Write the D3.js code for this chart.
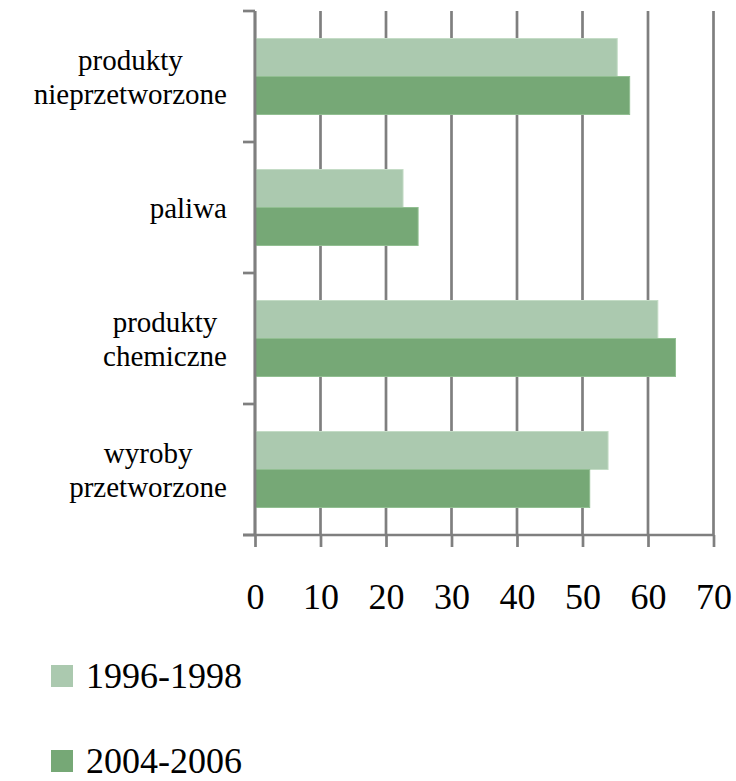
<!DOCTYPE html>
<html>
<head>
<meta charset="utf-8">
<script src="https://cdn.jsdelivr.net/npm/d3@7"></script>
<style>
    body { margin: 0; background: #fff; }
    svg { display: block; }
    text { font-family: "Liberation Serif", "DejaVu Serif", "Times New Roman", serif; fill: #000; }
</style>
</head>
<body>
<div id="chart"></div>
<script>
// Data
const categories = ["produkty nieprzetworzone", "paliwa", "produkty chemiczne", "wyroby przetworzone"];
const categoryLines = [["produkty", "nieprzetworzone"], ["paliwa"], ["produkty", "chemiczne"], ["wyroby", "przetworzone"]];
const series = ["1996-1998", "2004-2006"];
const values1996 = [55.3, 22.6, 61.5, 53.9];
const values2004 = [57.2, 24.9, 64.2, 51.1];
const xTicks = [0, 10, 20, 30, 40, 50, 60, 70];

const colors = { "1996-1998": "#abc9af", "2004-2006": "#76a876" };
const strokes = { "1996-1998": "#c4dcc6", "2004-2006": "#92bf92" };
const gridColor = "#7f7f7f";
const fontStack = "'Liberation Serif', 'DejaVu Serif', 'Times New Roman', serif";

const width = 736, height = 781;
const plotLeft = 255, plotRight = 713.5, plotTop = 11, plotBottom = 535;

const svg = d3.select("#chart").append("svg")
    .attr("width", width)
    .attr("height", height);

const x = d3.scaleLinear().domain([0, 70]).range([plotLeft, plotRight]);
const y = d3.scaleBand().domain(categories).range([plotTop, plotBottom])
    .paddingInner(0.42).paddingOuter(0.21);
const ySub = d3.scaleBand().domain(series).range([0, y.bandwidth()]);

// Grid lines
svg.append("g")
    .selectAll("line")
    .data(xTicks)
    .join("line")
    .attr("x1", d => x(d))
    .attr("x2", d => x(d))
    .attr("y1", plotTop)
    .attr("y2", plotBottom)
    .attr("stroke", gridColor)
    .attr("stroke-width", 2.7);

// Bars
const rows = categories.map((c, i) => ({ cat: c, values: [values1996[i], values2004[i]] }));
const group = svg.append("g")
    .selectAll("g")
    .data(rows)
    .join("g")
    .attr("transform", d => `translate(0,${y(d.cat)})`);

group.selectAll("rect")
    .data(d => series.map((s, j) => ({ s: s, v: d.values[j] })))
    .join("rect")
    .attr("x", x(0))
    .attr("y", d => ySub(d.s))
    .attr("width", d => x(d.v) - x(0))
    .attr("height", ySub.bandwidth())
    .attr("fill", d => colors[d.s])
    .attr("stroke", d => strokes[d.s])
    .attr("stroke-width", 1);

// X axis
const xAxis = svg.append("g")
    .attr("transform", `translate(0,${plotBottom})`)
    .call(d3.axisBottom(x).tickValues(xTicks).tickSize(12).tickPadding(36).tickSizeOuter(0));
xAxis.attr("font-family", fontStack);
xAxis.select(".domain").remove();
xAxis.selectAll(".tick line").attr("stroke", gridColor).attr("stroke-width", 2.7);
xAxis.selectAll(".tick text")
    .attr("font-size", 36)
    .attr("fill", "#000");

svg.append("line")
    .attr("x1", plotLeft - 12)
    .attr("x2", plotRight)
    .attr("y1", plotBottom)
    .attr("y2", plotBottom)
    .attr("stroke", gridColor)
    .attr("stroke-width", 2.7);

// Y axis line and category boundary ticks
svg.append("line")
    .attr("x1", plotLeft)
    .attr("x2", plotLeft)
    .attr("y1", plotTop)
    .attr("y2", plotBottom)
    .attr("stroke", gridColor)
    .attr("stroke-width", 2.7);

const boundaries = d3.range(categories.length + 1).map(i => plotTop + i * y.step());
svg.append("g")
    .selectAll("line")
    .data(boundaries)
    .join("line")
    .attr("x1", plotLeft - 12)
    .attr("x2", plotLeft)
    .attr("y1", d => d)
    .attr("y2", d => d)
    .attr("stroke", gridColor)
    .attr("stroke-width", 2.7);

// Category labels (lines centred on each other, block right-aligned)
const labelRight = 227, lineHeight = 34;
categories.forEach((c, i) => {
    const lines = categoryLines[i];
    const g = svg.append("g");
    const texts = lines.map((l, k) => g.append("text")
        .attr("font-size", 29)
        .attr("text-anchor", "middle")
        .attr("y", y(c) + y.bandwidth() / 2 + 10 + (k - (lines.length - 1) / 2) * lineHeight)
        .text(l));
    const maxW = d3.max(texts, t => t.node().getComputedTextLength());
    texts.forEach(t => t.attr("x", labelRight - maxW / 2));
});

// Legend
const legend = svg.append("g")
    .selectAll("g")
    .data(series)
    .join("g")
    .attr("transform", (d, i) => `translate(51,${665 + i * 85})`);

legend.append("rect")
    .attr("width", 22)
    .attr("height", 22)
    .attr("fill", d => colors[d]);

legend.append("text")
    .attr("x", 35)
    .attr("y", 23)
    .attr("font-size", 36)
    .text(d => d);
</script>
</body>
</html>
